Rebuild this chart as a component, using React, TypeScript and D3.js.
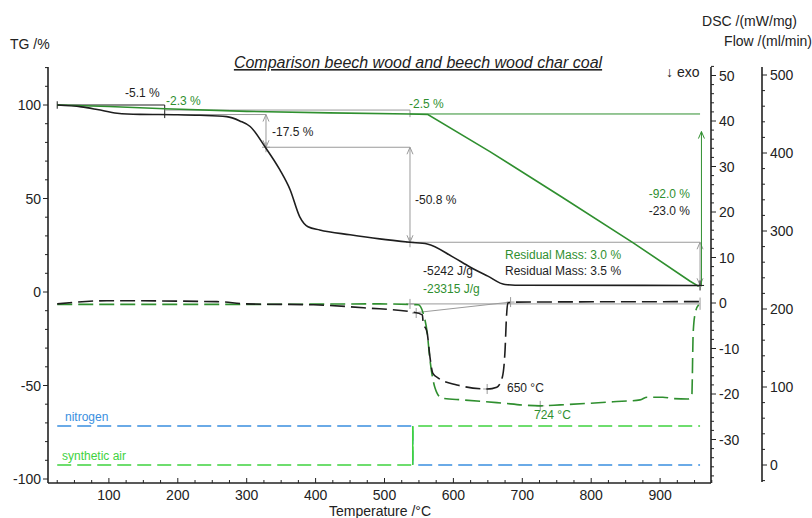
import React from "react";
import * as d3 from "d3";

// ---------- data ----------
const beechTgT = [25, 60, 83, 112, 145, 200, 232, 271, 290, 305, 327, 348, 363, 377, 389, 406, 450, 493, 537, 562, 599, 624, 650, 675, 700, 958];
const beechTg = [100, 99.0, 97.6, 95.6, 95.0, 94.8, 94.5, 93.8, 91.5, 88.5, 77.4, 65.4, 54.7, 40.2, 34.9, 33.2, 30.6, 28.4, 26.6, 25.7, 18.8, 13.4, 8.5, 4.0, 3.6, 3.5];

const charTgT = [25, 100, 181, 300, 420, 537, 563, 653, 759, 861, 943, 956];
const charTg = [100, 99.2, 98.0, 96.6, 95.8, 95.2, 94.9, 75.1, 50.4, 26.3, 5.9, 3.0];

const beechDscT = [25, 97, 257, 300, 397, 474, 541, 555, 556, 562, 566, 570, 578, 605, 649, 663, 671, 675, 677, 679, 690, 958];
const beechDsc = [-0.2, 0.5, 0.3, -0.2, -0.4, -1.1, -2.0, -2.6, -4.1, -6.6, -11.9, -15.4, -16.5, -18.0, -18.9, -18.5, -16.3, -10.3, -3.1, 0, 0.2, 0.3];

const charDscT = [25, 300, 493, 549, 556, 562, 566, 573, 583, 614, 663, 726, 755, 832, 871, 881, 904, 919, 940, 946, 948, 951, 956];
const charDsc = [-0.3, -0.3, -0.2, -0.4, -2.2, -6.6, -12.5, -18.5, -20.9, -21.3, -21.9, -22.6, -22.4, -21.7, -21.3, -20.7, -20.7, -21.0, -21.1, -20.6, -6.6, -2.2, -0.4];

const flowT = [25, 541, 541, 958];
const nitrogenFlow = [50, 50, 0, 0];
const airFlow = [0, 0, 50, 50];

const xTickLabels = [100, 200, 300, 400, 500, 600, 700, 800, 900];
const tgTickLabels = [-100, -50, 0, 50, 100];
const dscTickLabels = [-30, -20, -10, 0, 10, 20, 30, 40, 50];
const flowTickLabels = [0, 100, 200, 300, 400, 500];

// ---------- styles ----------
const FONT = "'Liberation Sans', Arial, sans-serif";
const BLACK = "#1e1e1e";
const GREEN = "#2f8f2f";
const AIR = "#3fd23f";
const N2 = "#3a8fe0";
const GREY = "#9a9a9a";

export default function App() {
  const x = d3.scaleLinear().domain([0, 1000]).range([40, 729]);
  const yTg = d3.scaleLinear().domain([0, 100]).range([292, 105]);
  const yDsc = d3.scaleLinear().domain([0, 50]).range([303, 75.5]);
  const yFlow = d3.scaleLinear().domain([0, 500]).range([465, 75]);

  const plotLeft = 48;
  const plotRight = 711;
  const plotBottom = 483;
  const plotTop = 67;
  const flowX = 762;

  const mk = (ts: number[], vs: number[], ys: d3.ScaleLinear<number, number>, curve: d3.CurveFactory = d3.curveMonotoneX) =>
    d3.line<number>().x((_, i) => x(ts[i])).y((v) => ys(v)).curve(curve)(vs) || "";

  const tgMinor = d3.range(-100, 121, 10);
  const dscMinor = d3.range(-38, 53, 2);
  const flowMinor = d3.range(-20, 511, 20);
  const xMinor = d3.range(25, 976, 25);

  const cross = (cx: number, cy: number, color: string, key: string) => (
    <g key={key} stroke={color} strokeWidth={1}>
      <line x1={cx - 4} x2={cx + 4} y1={cy} y2={cy} />
      <line x1={cx} x2={cx} y1={cy - 5} y2={cy + 5} />
    </g>
  );

  const arrow = (t: number, v1: number, v2: number, color: string, key: string, both = true) => {
    const xa = x(t);
    const ya = yTg(v1);
    const yb = yTg(v2);
    return (
      <g key={key} stroke={color} strokeWidth={1} fill="none">
        <line x1={xa} x2={xa} y1={ya} y2={yb} />
        <polyline points={`${xa - 3},${ya + 7} ${xa},${ya} ${xa + 3},${ya + 7}`} />
        {both && <polyline points={`${xa - 3},${yb - 7} ${xa},${yb} ${xa + 3},${yb - 7}`} />}
      </g>
    );
  };

  const hl = (t1: number, t2: number, v: number, color: string, key: string) => (
    <line key={key} x1={x(t1)} x2={x(t2)} y1={yTg(v)} y2={yTg(v)} stroke={color} strokeWidth={1} />
  );

  return (
    <svg width={812} height={518} style={{ position: "absolute", left: 0, top: 0, background: "#fff" }} fontFamily={FONT}>
      {/* headers */}
      <text x={10} y={49} fontSize={14} fill="#222">TG /%</text>
      <text x={797} y={26} fontSize={14} fill="#222" textAnchor="end">DSC /(mW/mg)</text>
      <text x={812} y={46} fontSize={14} fill="#222" textAnchor="end">Flow /(ml/min)</text>
      <text x={666} y={77} fontSize={14} fill="#222">↓ exo</text>
      <text x={418} y={68} fontSize={16} fontStyle="italic" fill="#222" textAnchor="middle" textDecoration="underline">
        Comparison beech wood and beech wood char coal
      </text>

      {/* axes lines */}
      <g stroke="#222" strokeWidth={1.6}>
        <line x1={plotLeft} x2={plotLeft} y1={plotTop} y2={plotBottom} />
        <line x1={plotLeft} x2={plotRight} y1={plotBottom} y2={plotBottom} />
        <line x1={plotRight} x2={plotRight} y1={plotTop} y2={plotBottom} />
        <line x1={flowX} x2={flowX} y1={plotTop} y2={482} />
      </g>

      {/* ticks */}
      <g stroke="#222" strokeWidth={1}>
        {tgMinor.filter((v) => yTg(v) >= plotTop && yTg(v) <= plotBottom).map((v) => (
          <line key={"tg" + v} x1={plotLeft - (v % 50 === 0 ? 5 : 3)} x2={plotLeft} y1={yTg(v)} y2={yTg(v)} />
        ))}
        {dscMinor.map((v) => (
          <line key={"dsc" + v} x1={plotRight} x2={plotRight + (v % 10 === 0 ? 5 : 3)} y1={yDsc(v)} y2={yDsc(v)} />
        ))}
        {flowMinor.map((v) => (
          <line key={"fl" + v} x1={flowX} x2={flowX + (v % 100 === 0 ? 5 : 3)} y1={yFlow(v)} y2={yFlow(v)} />
        ))}
        {xMinor.map((t) => (
          <line key={"xt" + t} x1={x(t)} x2={x(t)} y1={plotBottom - (t % 100 === 0 ? 5 : 3)} y2={plotBottom} />
        ))}
      </g>
      <g fontSize={14} fill="#222">
        {tgTickLabels.map((v) => (
          <text key={"tgl" + v} x={plotLeft - 7} y={yTg(v) + 5} textAnchor="end">{v}</text>
        ))}
        {dscTickLabels.map((v) => (
          <text key={"dscl" + v} x={plotRight + 8} y={yDsc(v) + 5}>{v}</text>
        ))}
        {flowTickLabels.map((v) => (
          <text key={"fll" + v} x={flowX + 8} y={yFlow(v) + 5}>{v}</text>
        ))}
        {xTickLabels.map((t) => (
          <text key={"xl" + t} x={x(t)} y={plotBottom + 17} textAnchor="middle">{t}</text>
        ))}
        <text x={380} y={516} textAnchor="middle">Temperature /°C</text>
      </g>

      {/* flow */}
      <path d={mk(flowT, nitrogenFlow, yFlow, d3.curveLinear)} fill="none" stroke={N2} strokeWidth={1.5} strokeDasharray="14,6" />
      <path d={mk(flowT, airFlow, yFlow, d3.curveLinear)} fill="none" stroke={AIR} strokeWidth={1.5} strokeDasharray="14,6" />
      <line x1={x(541)} x2={x(541)} y1={yFlow(0)} y2={yFlow(50)} stroke={AIR} strokeWidth={1.5} />
      <text x={65} y={421} fontSize={12} fill={N2}>nitrogen</text>
      <text x={62} y={460} fontSize={12} fill={AIR}>synthetic air</text>

      {/* TG annotations */}
      <g>
        {hl(25, 181, 100, BLACK, "h100")}
        <line x1={x(181)} x2={x(181)} y1={yTg(100)} y2={yTg(93)} stroke={BLACK} strokeWidth={1} />
        <line x1={x(25)} x2={x(25)} y1={yTg(102)} y2={yTg(98)} stroke={BLACK} strokeWidth={1} />
        {hl(181, 328, 94.9, GREY, "h949")}
        {hl(181, 537, 97.3, GREY, "h973")}
        <line x1={x(537)} x2={x(537)} y1={yTg(97.3)} y2={yTg(93.5)} stroke={GREY} strokeWidth={1} />
        {hl(537, 958, 95.2, GREEN, "h952")}
        {hl(328, 537, 77.4, GREY, "h774")}
        {hl(537, 958, 26.6, GREY, "h266")}
        {arrow(328, 94.9, 77.4, GREY, "a1")}
        {arrow(537, 77.4, 26.6, GREY, "a2")}
        {arrow(958, 26.6, 3.6, GREY, "a3")}
        {arrow(960, 85.8, 3.0, GREEN, "a4", false)}
        {cross(x(328), yTg(77.4), GREY, "c1")}
        {cross(x(537), yTg(26.6), GREY, "c2")}
        {cross(x(958), yTg(3.5), BLACK, "c3")}
      </g>

      {/* DSC baselines */}
      <line x1={x(537)} x2={x(958)} y1={yDsc(-0.2)} y2={yDsc(-0.2)} stroke={GREY} strokeWidth={1} />
      <line x1={x(541)} x2={x(683)} y1={yDsc(-2.2)} y2={yDsc(0.2)} stroke={GREY} strokeWidth={1} />
      <line x1={x(958)} x2={x(958)} y1={yDsc(-1.5)} y2={yDsc(1.2)} stroke={GREY} strokeWidth={1} />
      {cross(x(537), yDsc(-0.2), GREY, "d1")}
      {cross(x(546), yDsc(-2.2), GREY, "d2")}
      {cross(x(683), yDsc(0.2), GREY, "d3")}
      {cross(x(649), yDsc(-18.9), GREY, "d4")}
      {cross(x(726), yDsc(-22.6), GREY, "d5")}

      {/* curves */}
      <path d={mk(charTgT, charTg, yTg, d3.curveLinear)} fill="none" stroke={GREEN} strokeWidth={1.6} />
      <path d={mk(beechTgT, beechTg, yTg)} fill="none" stroke={BLACK} strokeWidth={1.6} />
      <path d={mk(charDscT, charDsc, yDsc)} fill="none" stroke={GREEN} strokeWidth={1.6} strokeDasharray="15,6" />
      <path d={mk(beechDscT, beechDsc, yDsc)} fill="none" stroke={BLACK} strokeWidth={1.6} strokeDasharray="15,6" />

      {/* labels */}
      <g fontSize={12}>
        <text x={125} y={97} fill={BLACK}>-5.1 %</text>
        <text x={166} y={105} fill={GREEN}>-2.3 %</text>
        <text x={409} y={108} fill={GREEN}>-2.5 %</text>
        <text x={272} y={136} fill={BLACK}>-17.5 %</text>
        <text x={415} y={204} fill={BLACK}>-50.8 %</text>
        <text x={690} y={198} fill={GREEN} textAnchor="end">-92.0 %</text>
        <text x={690} y={215} fill={BLACK} textAnchor="end">-23.0 %</text>
        <text x={505} y={259} fill={GREEN}>Residual Mass: 3.0 %</text>
        <text x={505} y={275} fill={BLACK}>Residual Mass: 3.5 %</text>
        <text x={423} y={275} fill={BLACK}>-5242 J/g</text>
        <text x={423} y={293} fill={GREEN}>-23315 J/g</text>
        <text x={507} y={392} fill={BLACK}>650 °C</text>
        <text x={534} y={419} fill={GREEN}>724 °C</text>
      </g>
    </svg>
  );
}
